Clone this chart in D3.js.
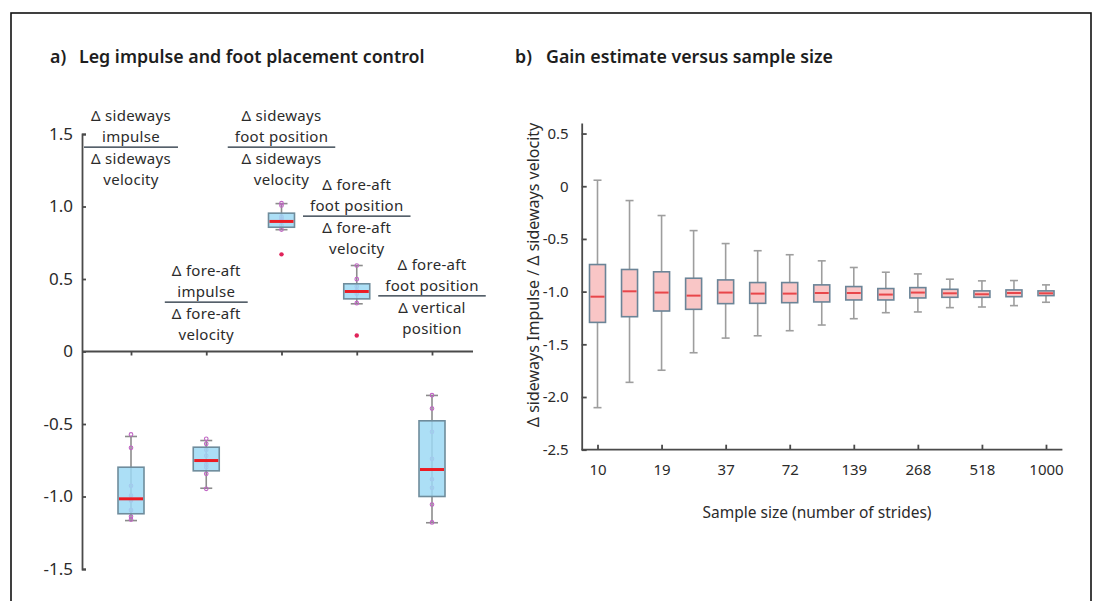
<!DOCTYPE html>
<meta charset="utf-8">
<style>
    body { margin: 0; background: #fff; }
    text { font-family: "Noto Sans", sans-serif; fill: #2b2b2b; }
    .title { font-weight: 600; font-size: 17.8px; fill: #1e1e1e; }
    .axis path, .axis line { stroke: #4a4a4a; stroke-width: 1.8px; }
</style>

<body>
    <script src="https://d3js.org/d3.v7.min.js"></script>
    <script>
        // ---- panel a: gains for each control strategy ----
        var ratioKeys = ["sideImpulse", "foreImpulse", "sideFoot", "foreFoot", "vertFoot"];
        var ratioText = [
            ["Δ sideways", "impulse", "Δ sideways", "velocity"],
            ["Δ fore-aft", "impulse", "Δ fore-aft", "velocity"],
            ["Δ sideways", "foot position", "Δ sideways", "velocity"],
            ["Δ fore-aft", "foot position", "Δ fore-aft", "velocity"],
            ["Δ fore-aft", "foot position", "Δ vertical", "position"]
        ];
        // [lower whisker, q1, median, q3, upper whisker]
        var ratioStats = [
            [-1.166, -1.119, -1.016, -0.798, -0.586],
            [-0.943, -0.823, -0.752, -0.660, -0.614],
            [0.840, 0.857, 0.897, 0.954, 1.020],
            [0.329, 0.363, 0.414, 0.467, 0.593],
            [-1.181, -1.000, -0.814, -0.478, -0.303]
        ];
        var ratioPoints = [
            [-0.572, -0.664, -0.926, -0.993, -1.028, -1.094, -1.138, -1.159],
            [-0.602, -0.637, -0.678, -0.719, -0.779, -0.798, -0.843, -0.947],
            [1.023, 1.007, 0.930, 0.915, 0.899, 0.870, 0.841],
            [0.593, 0.499, 0.448, 0.421, 0.398, 0.333],
            [-0.301, -0.393, -0.554, -0.740, -0.881, -0.940, -1.055, -1.179]
        ];
        var ratioOutliers = [[], [], [0.67], [0.11], []];
        var ratioTicks = [-1.5, -1, -0.5, 0, 0.5, 1, 1.5];

        // ---- panel b: gain estimate vs sample size ----
        var sampleSizes = [10, 14, 19, 27, 37, 52, 72, 100, 139, 193, 268, 373, 518, 720, 1000];
        var gainStats = [
            [-2.101, -1.292, -1.048, -0.743, 0.057],
            [-1.861, -1.238, -0.997, -0.790, -0.136],
            [-1.746, -1.184, -1.009, -0.812, -0.278],
            [-1.580, -1.168, -1.038, -0.873, -0.421],
            [-1.441, -1.114, -1.009, -0.889, -0.544],
            [-1.419, -1.111, -1.019, -0.914, -0.612],
            [-1.371, -1.105, -1.019, -0.914, -0.650],
            [-1.317, -1.098, -1.013, -0.936, -0.708],
            [-1.257, -1.079, -1.013, -0.952, -0.771],
            [-1.200, -1.079, -1.028, -0.971, -0.816],
            [-1.193, -1.060, -1.009, -0.962, -0.832],
            [-1.152, -1.054, -1.016, -0.978, -0.882],
            [-1.146, -1.054, -1.025, -0.993, -0.898],
            [-1.133, -1.048, -1.013, -0.984, -0.895],
            [-1.101, -1.038, -1.016, -0.993, -0.936]
        ];
        var gainTicks = [-2.5, -2, -1.5, -1, -0.5, 0, 0.5];

        var fmt = d => d === 0 ? "0" : d.toFixed(1);

        var svg = d3.select("body").append("svg").attr("width", 1099).attr("height", 601);

        svg.append("rect")
            .attr("x", 11).attr("y", 13).attr("width", 1080).attr("height", 640)
            .attr("fill", "none").attr("stroke", "#111").attr("stroke-width", 1.6);

        // generic box drawer
        function drawBoxes(g, keys, stats, x, y, st) {
            var box = g.selectAll("g.box").data(keys).join("g").attr("class", "box");
            box.append("line")
                .attr("x1", d => x(d)).attr("x2", d => x(d))
                .attr("y1", (d, i) => y(stats[i][0])).attr("y2", (d, i) => y(stats[i][4]))
                .attr("stroke", st.whisker).attr("stroke-width", 1.6);
            [0, 4].forEach(function(k) {
                box.append("line")
                    .attr("x1", d => x(d) - st.cap / 2).attr("x2", d => x(d) + st.cap / 2)
                    .attr("y1", (d, i) => y(stats[i][k])).attr("y2", (d, i) => y(stats[i][k]))
                    .attr("stroke", st.whisker).attr("stroke-width", 1.6);
            });
            if (st.points) {
                box.each(function(d, i) {
                    d3.select(this).selectAll("circle.pt").data(st.points[i]).join("circle")
                        .attr("class", "pt")
                        .attr("cx", x(d)).attr("cy", v => y(v)).attr("r", 1.8)
                        .attr("fill", "none").attr("stroke", "#c065c4").attr("stroke-width", 1.1);
                });
            }
            box.append("rect")
                .attr("x", d => x(d) - st.width / 2).attr("width", st.width)
                .attr("y", (d, i) => y(stats[i][3]))
                .attr("height", (d, i) => y(stats[i][1]) - y(stats[i][3]))
                .attr("fill", st.fill).attr("fill-opacity", st.opacity)
                .attr("stroke", st.stroke).attr("stroke-width", 1.6);
            box.append("line")
                .attr("x1", d => x(d) - st.width / 2 + 1).attr("x2", d => x(d) + st.width / 2 - 1)
                .attr("y1", (d, i) => y(stats[i][2])).attr("y2", (d, i) => y(stats[i][2]))
                .attr("stroke", st.median).attr("stroke-width", st.medianWidth);
            if (st.outliers) {
                box.each(function(d, i) {
                    d3.select(this).selectAll("circle.out").data(st.outliers[i]).join("circle")
                        .attr("class", "out")
                        .attr("cx", x(d)).attr("cy", v => y(v)).attr("r", 2.2)
                        .attr("fill", "#e0245a");
                });
            }
        }

        // ================= panel a =================
        var xa = d3.scalePoint().domain(ratioKeys).range([131, 432]);
        var ya = d3.scaleLinear().domain([-1.5, 1.5]).range([569, 134]);
        var ga = svg.append("g");

        ga.append("text").attr("class", "title").attr("x", 50).attr("y", 63).text("a)");
        ga.append("text").attr("class", "title").attr("x", 79).attr("y", 63)
            .text("Leg impulse and foot placement control");

        ga.append("g").attr("class", "axis").attr("transform", "translate(82,0)")
            .call(d3.axisLeft(ya).tickValues(ratioTicks).tickSize(-4).tickPadding(9).tickFormat(fmt))
            .selectAll("text").style("font-size", "17px");

        var xAxisA = ga.append("g").attr("class", "axis").attr("transform", "translate(0," + ya(0) + ")")
            .call(d3.axisBottom(xa).tickSize(4).tickFormat(""));
        xAxisA.select(".domain").remove();
        xAxisA.append("line").attr("x1", 82).attr("x2", xa.range()[1] + 41)
            .attr("y1", 0).attr("y2", 0);

        drawBoxes(ga, ratioKeys, ratioStats, xa, ya, {
            width: 26, cap: 12, whisker: "#8c8c8c", fill: "#9dd9f5", opacity: 0.85,
            stroke: "#6f8c9c", median: "#ec1c24", medianWidth: 3,
            points: ratioPoints, outliers: ratioOutliers
        });

        // fraction labels (y of the fraction bar, in axis units)
        var fracAt = [1.41, 0.341, 1.41, 0.934, 0.383];
        var lineOff = [-31, -10, 12, 33];
        ratioKeys.forEach(function(k, i) {
            var f = ga.append("g").attr("transform", "translate(" + xa(k) + "," + ya(fracAt[i]) + ")");
            var t = f.selectAll("text").data(ratioText[i]).join("text")
                .attr("text-anchor", "middle").attr("y", (d, j) => lineOff[j]).attr("dy", "0.35em")
                .style("font-size", "15px").style("letter-spacing", "0.3px").text(d => d);
            var w = d3.max(t.nodes(), n => n.getComputedTextLength()) + 14;
            f.append("line").attr("x1", -w / 2).attr("x2", w / 2)
                .attr("stroke", "#1d2b38").attr("stroke-width", 1.3);
        });

        // ================= panel b =================
        var xb = d3.scalePoint().domain(sampleSizes).range([597.5, 1046]);
        var yb = d3.scaleLinear().domain([-2.5, 0.6]).range([449.7, 123]);
        var gb = svg.append("g");

        gb.append("text").attr("class", "title").attr("x", 515).attr("y", 63).text("b)");
        gb.append("text").attr("class", "title").attr("x", 546).attr("y", 63)
            .text("Gain estimate versus sample size");

        gb.append("g").attr("class", "axis").attr("transform", "translate(581.7,0)")
            .call(d3.axisLeft(yb).tickValues(gainTicks).tickSize(-5).tickSizeOuter(0).tickPadding(13).tickFormat(fmt))
            .selectAll("text").style("font-size", "15px");

        var xAxisB = gb.append("g").attr("class", "axis").attr("transform", "translate(0," + yb(-2.5) + ")")
            .call(d3.axisBottom(xb).tickValues(sampleSizes.filter((d, i) => i % 2 === 0))
                .tickSize(-5).tickPadding(15));
        xAxisB.select(".domain").remove();
        xAxisB.append("line").attr("x1", 581.7).attr("x2", xb.range()[1] + 16.4)
            .attr("y1", 0).attr("y2", 0);
        xAxisB.selectAll("text").style("font-size", "15px");

        drawBoxes(gb, sampleSizes, gainStats, xb, yb, {
            width: 16, cap: 8, whisker: "#9e9e9e", fill: "#f9c6c6", opacity: 1,
            stroke: "#6b8497", median: "#e8464a", medianWidth: 2
        });

        gb.append("text").attr("transform", "translate(533,275) rotate(-90)")
            .attr("text-anchor", "middle").attr("dy", "0.35em").style("font-size", "16px")
            .text("Δ sideways Impulse / Δ sideways velocity");

        gb.append("text").attr("x", 817).attr("y", 518).attr("text-anchor", "middle")
            .style("font-size", "15.5px").text("Sample size (number of strides)");
    </script>
</body>

</html>
